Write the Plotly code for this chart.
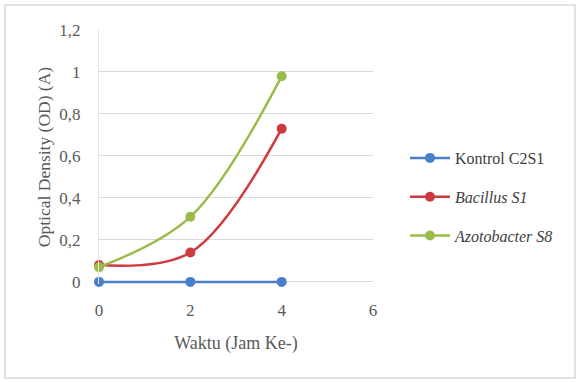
import plotly.graph_objects as go

# Sampling time (hour) and optical density readings
waktu = [0, 2, 4]
kontrol_c2s1 = [0.0, 0.0, 0.0]
bacillus_s1 = [0.08, 0.14, 0.73]
azotobacter_s8 = [0.07, 0.31, 0.98]

series = [
    ("Kontrol C2S1", kontrol_c2s1, "#4a7ec8"),
    ("<i>Bacillus S1</i>", bacillus_s1, "#cf3a40"),
    ("<i>Azotobacter S8</i>", azotobacter_s8, "#9bbb4a"),
]

W, H = 580, 382
L, R, T, B = 99, 207, 30, 98

fig = go.Figure()
for i, (name, vals, col) in enumerate(series):
    fig.add_trace(go.Scatter(
        x=waktu, y=vals, name=name, mode="lines+markers",
        line=dict(color=col, width=2.5, shape="spline", smoothing=1.0),
        marker=dict(color=col, size=10),
        legendgroup=f"g{i}", cliponaxis=False,
    ))

serif = "Times New Roman, Liberation Serif, serif"
pw = W - L - R
ph = H - T - B

fig.update_layout(
    width=W, height=H,
    margin=dict(l=L, r=R, t=T, b=B),
    paper_bgcolor="white", plot_bgcolor="white",
    separators=",.",
    font=dict(family=serif, size=16, color="#595959"),
    showlegend=True,
    legend=dict(
        x=(405 - L) / pw, y=1 - (141 - T) / ph,
        xref="paper", yref="paper", xanchor="left", yanchor="top",
        font=dict(family=serif, size=16, color="#404040"),
        tracegroupgap=15, bgcolor="rgba(0,0,0,0)", itemwidth=40,
    ),
    xaxis=dict(
        range=[0, 6], dtick=2, showgrid=False, zeroline=False,
        showline=False, ticks="", ticklabelstandoff=14,
        tickfont=dict(family=serif, size=17, color="#595959"),
        title=dict(text="Waktu (Jam Ke-)", font=dict(family=serif, size=18, color="#595959"), standoff=17),
    ),
    yaxis=dict(
        range=[-0.01, 1.2], tick0=0, dtick=0.2, showgrid=True, gridcolor="#d9d9d9", gridwidth=1,
        zeroline=False, showline=True, linecolor="#e3e3e3", ticks="",
        ticklabelstandoff=14,
        tickfont=dict(family=serif, size=17, color="#595959"),
        title=dict(text="Optical Density (OD) (A)", font=dict(family=serif, size=17.5, color="#595959"), standoff=4),
    ),
    shapes=[dict(
        type="rect", xref="paper", yref="paper",
        x0=(5 - L) / pw, x1=(575 - L) / pw,
        y0=-(B - 4) / ph, y1=1 + (T - 5) / ph,
        line=dict(color="#d9d9d9", width=1.5), fillcolor="rgba(0,0,0,0)", layer="below",
    )],
)

fig.write_html("out.html")
